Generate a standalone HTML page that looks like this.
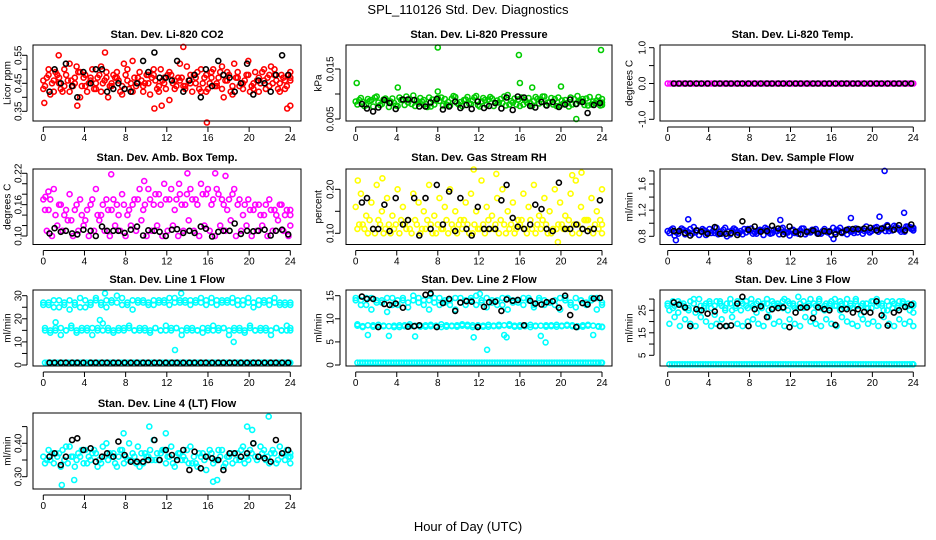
<!DOCTYPE html>
<html><head><meta charset="utf-8"><title>SPL_110126 Std. Dev. Diagnostics</title>
<style>
html,body{margin:0;padding:0;background:#fff;}
svg{display:block;font-family:"Liberation Sans",Arial,sans-serif;}
</style></head>
<body>
<svg id="chart" width="936" height="540" viewBox="0 0 936 540" xmlns="http://www.w3.org/2000/svg">
<rect x="0" y="0" width="936" height="540" fill="#fff"/>
<text x="468" y="14" font-size="13" text-anchor="middle">SPL_110126  Std. Dev. Diagnostics</text>
<text x="468" y="531" font-size="13" text-anchor="middle">Hour of Day (UTC)</text>
</svg>
<script>
// ---- shared data ----
const blackHours = [0.6,1.1,1.7,2.2,2.8,3.3,3.9,4.6,5.1,5.7,6.2,6.8,7.3,7.9,8.5,9.1,9.7,10.2,10.8,11.3,11.9,12.5,13.0,13.6,14.2,14.7,15.3,15.8,16.4,17.0,17.5,18.1,18.6,19.2,19.8,20.4,20.9,21.5,22.1,22.6,23.2,23.8];
const xTicks = [0,4,8,12,16,20,24];

// CO2
const co2A = [0.46,0.50,0.42,0.47,0.44,0.52,0.45,0.40,0.48,0.46,0.43,0.51,0.47,0.44,0.49,0.41,0.46,0.53,0.45,0.42,0.48,0.50,0.44,0.47,0.39,0.46,0.52,0.43,0.48,0.45,0.50,0.42,0.47,0.44,0.51,0.46,0.41,0.49,0.45,0.53,0.43,0.47,0.50,0.44,0.48,0.42,0.46,0.49];
const co2B = [0.44,0.41,0.49,0.43,0.48,0.46,0.51,0.44,0.42,0.50,0.47,0.45,0.40,0.48,0.46,0.52,0.43,0.47,0.49,0.45,0.41,0.46,0.50,0.43,0.48,0.44,0.47,0.51,0.42,0.49,0.45,0.43,0.50,0.47,0.40,0.48,0.52,0.44,0.46,0.42,0.49,0.45,0.43,0.51,0.46,0.48,0.44,0.37];
const co2C = [0.47,0.45,0.48,0.42,0.46,0.44,0.49,0.47,0.45,0.43,0.48,0.46,0.44,0.47,0.42,0.48,0.45,0.44,0.46,0.48,0.47,0.43,0.46,0.48,0.45,0.47,0.44,0.46,0.48,0.43,0.47,0.45,0.44,0.49,0.46,0.42,0.47,0.45,0.48,0.44,0.46,0.49,0.47,0.45,0.43,0.47,0.48,0.46];
const co2D = [0.43,0.48,0.46,0.45,0.50,0.42,0.47,0.49,0.44,0.47,0.45,0.42,0.49,0.45,0.47,0.44,0.50,0.42,0.47,0.44,0.45,0.48,0.42,0.45,0.49,0.43,0.46,0.44,0.45,0.47,0.42,0.48,0.49,0.45,0.43,0.49,0.44,0.47,0.43,0.48,0.45,0.42,0.46,0.48,0.50,0.45,0.43,0.47];
const co2OutHours = [0.1,6.0,13.6,15.9,10.8,23.7,3.3,1.5,11.5];
const co2OutVals = [0.38,0.56,0.58,0.31,0.36,0.36,0.37,0.55,0.37];
const co2Black = [0.42,0.50,0.45,0.52,0.44,0.40,0.49,0.45,0.50,0.50,0.42,0.43,0.45,0.43,0.42,0.45,0.53,0.49,0.56,0.47,0.47,0.46,0.53,0.42,0.46,0.48,0.40,0.50,0.44,0.53,0.48,0.47,0.42,0.45,0.52,0.41,0.46,0.45,0.42,0.48,0.55,0.48];

// Pressure
const presA = [0.0085,0.0092,0.0078,0.0088,0.0095,0.0080,0.0087,0.0091,0.0076,0.0089,0.0083,0.0097,0.0081,0.0088,0.0093,0.0079,0.0086,0.0090,0.0077,0.0094,0.0084,0.0089,0.0080,0.0096,0.0085,0.0078,0.0091,0.0087,0.0082,0.0098,0.0083,0.0089,0.0079,0.0092,0.0086,0.0081,0.0095,0.0084,0.0090,0.0077,0.0088,0.0093,0.0080,0.0086,0.0091,0.0079,0.0087,0.0083];
const presB = [0.0079,0.0084,0.0090,0.0075,0.0083,0.0089,0.0074,0.0082,0.0093,0.0078,0.0090,0.0076,0.0092,0.0080,0.0075,0.0087,0.0093,0.0079,0.0091,0.0082,0.0076,0.0094,0.0087,0.0078,0.0092,0.0089,0.0076,0.0083,0.0095,0.0079,0.0091,0.0076,0.0088,0.0081,0.0094,0.0089,0.0078,0.0092,0.0076,0.0087,0.0082,0.0079,0.0096,0.0090,0.0077,0.0085,0.0094,0.0078];
const presC = [0.0088,0.0076,0.0086,0.0093,0.0078,0.0091,0.0085,0.0077,0.0088,0.0095,0.0080,0.0087,0.0085,0.0074,0.0089,0.0092,0.0077,0.0084,0.0096,0.0079,0.0088,0.0081,0.0093,0.0075,0.0088,0.0094,0.0082,0.0090,0.0077,0.0086,0.0079,0.0093,0.0083,0.0076,0.0090,0.0095,0.0083,0.0079,0.0093,0.0081,0.0075,0.0090,0.0085,0.0078,0.0094,0.0082,0.0077,0.0090];
const presOutHours = [0.1,4.1,8.0,15.9,16.0,17.2,20.0,23.9,21.5,8.0];
const presOutVals = [0.0122,0.0113,0.0193,0.0178,0.0122,0.0113,0.0115,0.0188,0.0050,0.0105];
const presBlack = [0.0080,0.0071,0.0065,0.0073,0.0088,0.0082,0.0070,0.0089,0.0089,0.0088,0.0075,0.0075,0.0083,0.0090,0.0069,0.0075,0.0085,0.0072,0.0078,0.0070,0.0085,0.0072,0.0076,0.0082,0.0071,0.0093,0.0068,0.0095,0.0093,0.0076,0.0073,0.0084,0.0077,0.0084,0.0074,0.0079,0.0089,0.0080,0.0084,0.0062,0.0078,0.0082];

// Li-820 Temp
const tempVals = [0,0,0,0,0,0,0,0,0,0,0,0,0,0,0,0,0,0,0,0,0,0,0,0,0,0,0,0,0,0,0,0,0,0,0,0,0,0,0,0,0,0,0,0,0,0,0,0,0,0,0,0,0,0,0,0,0,0,0,0,0,0,0,0,0,0,0,0,0,0,0,0,0,0,0,0,0,0,0,0,0,0,0,0,0,0,0,0,0,0,0,0,0,0,0,0];
const tempBlack = [0,0,0,0,0,0,0,0,0,0,0,0,0,0,0,0,0,0,0,0,0,0,0,0,0,0,0,0,0,0,0,0,0,0,0,0,0,0,0,0,0,0];

// Amb box temp
const ambUpper = [0.17,0.15,0.19,0.16,0.14,0.18,0.15,0.17,0.13,0.16,0.19,0.14,0.17,0.15,0.16,0.18,0.14,0.16,0.17,0.15,0.19,0.16,0.18,0.20,0.17,0.15,0.18,0.16,0.19,0.17,0.20,0.18,0.16,0.19,0.17,0.15,0.18,0.16,0.14,0.17,0.15,0.16,0.14,0.17,0.15,0.16,0.14,0.15];
const ambMid = [0.15,0.17,0.14,0.16,0.15,0.13,0.16,0.14,0.15,0.17,0.14,0.16,0.15,0.17,0.14,0.16,0.15,0.17,0.19,0.16,0.17,0.18,0.16,0.17,0.19,0.17,0.16,0.18,0.17,0.16,0.18,0.19,0.17,0.18,0.16,0.17,0.19,0.17,0.16,0.15,0.16,0.14,0.16,0.15,0.14,0.16,0.15,0.14];
const ambLower = [0.11,0.10,0.12,0.11,0.13,0.10,0.11,0.12,0.10,0.11,0.13,0.11,0.10,0.12,0.11,0.10,0.12,0.11,0.13,0.10,0.11,0.12,0.10,0.11,0.12,0.10,0.11,0.13,0.11,0.10,0.12,0.11,0.10,0.12,0.11,0.13,0.10,0.11,0.12,0.10,0.11,0.12,0.10,0.11,0.13,0.11,0.10,0.12];
const ambOutHours = [6.6,14.0,16.7,17.7,0.2,0.5,9.8,13.2];
const ambOutVals = [0.218,0.220,0.220,0.215,0.175,0.185,0.205,0.200];
const ambBlack = [0.105,0.115,0.108,0.110,0.105,0.103,0.112,0.110,0.100,0.118,0.110,0.110,0.110,0.106,0.112,0.118,0.101,0.111,0.110,0.108,0.100,0.112,0.113,0.106,0.110,0.106,0.118,0.114,0.099,0.108,0.110,0.110,0.124,0.104,0.110,0.109,0.110,0.112,0.101,0.110,0.112,0.103];

// Gas stream RH
const rhLower = [0.11,0.12,0.10,0.11,0.13,0.10,0.12,0.11,0.10,0.12,0.11,0.13,0.10,0.11,0.12,0.10,0.11,0.13,0.12,0.10,0.11,0.12,0.10,0.11,0.12,0.13,0.11,0.10,0.12,0.11,0.10,0.12,0.11,0.13,0.10,0.11,0.12,0.10,0.11,0.12,0.11,0.10,0.12,0.11,0.13,0.10,0.11,0.12];
const rhLower2 = [0.12,0.11,0.13,0.10,0.12,0.11,0.10,0.12,0.13,0.11,0.10,0.12,0.11,0.13,0.10,0.12,0.11,0.10,0.11,0.12,0.13,0.10,0.12,0.11,0.10,0.11,0.12,0.13,0.10,0.12,0.11,0.13,0.10,0.11,0.12,0.13,0.10,0.11,0.12,0.11,0.13,0.12,0.10,0.13,0.11,0.12,0.13,0.10];
const rhUpper = [0.16,0.19,0.14,0.17,0.21,0.15,0.18,0.14,0.20,0.16,0.13,0.19,0.17,0.15,0.21,0.14,0.18,0.16,0.20,0.15,0.13,0.17,0.19,0.15,0.22,0.16,0.14,0.18,0.20,0.15,0.17,0.13,0.19,0.16,0.21,0.14,0.18,0.15,0.20,0.17,0.14,0.19,0.22,0.16,0.13,0.18,0.15,0.20];
const rhOutHours = [11.5,13.7,21.1,22.0,0.2,2.6,19.7];
const rhOutVals = [0.245,0.235,0.232,0.238,0.220,0.225,0.080];
const rhBlack = [0.17,0.18,0.11,0.11,0.165,0.105,0.18,0.12,0.13,0.18,0.095,0.18,0.11,0.21,0.12,0.195,0.105,0.18,0.11,0.095,0.16,0.11,0.11,0.11,0.175,0.21,0.135,0.115,0.11,0.12,0.165,0.155,0.11,0.105,0.215,0.11,0.11,0.12,0.11,0.105,0.11,0.175];

// Sample flow
const flowA = [0.88,0.92,0.84,0.90,0.86,0.94,0.82,0.89,0.91,0.85,0.87,0.93,0.83,0.90,0.88,0.86,0.92,0.84,0.89,0.91,0.85,0.88,0.93,0.86,0.90,0.84,0.92,0.87,0.89,0.85,0.91,0.88,0.86,0.93,0.89,0.87,0.92,0.90,0.95,0.88,0.94,0.91,0.97,0.89,0.93,0.90,0.95,0.92];
const flowB = [0.85,0.81,0.89,0.83,0.91,0.86,0.88,0.82,0.85,0.93,0.84,0.80,0.89,0.86,0.83,0.91,0.84,0.88,0.82,0.86,0.90,0.83,0.87,0.81,0.85,0.89,0.83,0.86,0.91,0.84,0.87,0.82,0.90,0.85,0.83,0.88,0.86,0.84,0.89,0.91,0.87,0.93,0.88,0.96,0.90,0.87,0.94,0.89];
const flowC = [0.90,0.86,0.92,0.88,0.84,0.89,0.91,0.86,0.88,0.83,0.90,0.87,0.92,0.85,0.91,0.88,0.86,0.90,0.93,0.84,0.88,0.91,0.85,0.89,0.87,0.92,0.86,0.90,0.84,0.88,0.86,0.93,0.89,0.87,0.91,0.85,0.90,0.88,0.86,0.93,0.90,0.88,0.92,0.94,0.87,0.95,0.91,0.93];
const flowOutHours = [21.2,23.1,2.0,20.7,0.8,16.2,11.0,17.9];
const flowOutVals = [1.80,1.16,1.06,1.10,0.74,0.76,1.05,1.08];
const flowBlack = [0.88,0.88,0.85,0.81,0.89,0.87,0.84,0.94,0.84,0.84,0.85,0.82,1.03,0.90,0.95,0.87,0.88,0.96,0.92,0.83,0.95,0.87,0.83,0.87,0.89,0.84,0.88,0.87,0.83,0.86,0.90,0.91,0.91,0.92,0.93,0.89,0.92,0.95,0.90,0.97,0.89,0.98];

// Line 1 flow
const l1Upper = [26,27,25,28,26,24,27,25,28,26,29,27,25,28,30,26,27,24,28,27,26,28,27,28,26,29,27,28,26,27,29,28,27,26,28,27,29,28,26,27,25,28,27,26,29,27,26,27];
const l1Upper2 = [27,26,28,25,27,28,26,29,25,27,28,26,28,27,27,29,26,28,27,28,27,26,28,27,29,27,28,27,28,28,27,26,29,28,27,28,27,26,28,29,27,26,28,28,27,26,27,26];
const l1Mid = [15,14,16,13,15,17,14,16,15,13,16,18,15,14,16,15,17,15,16,15,14,16,15,17,15,16,13,15,16,15,14,16,17,15,16,13,15,16,14,17,15,16,15,13,16,15,17,15];
const l1Mid2 = [16,15,15,16,15,16,15,15,16,16,15,15,16,15,15,16,16,15,15,16,15,16,15,15,16,16,15,16,15,15,16,15,15,16,16,15,16,15,15,16,15,15,16,15,16,15,15,16];
const l1Bottom = [1,1,1,1,1,1,1,1,1,1,1,1,1,1,1,1,1,1,1,1,1,1,1,1,1,1,1,1,1,1,1,1,1,1,1,1,1,1,1,1,1,1,1,1,1,1,1,1,1,1,1,1,1,1,1,1,1,1,1,1,1,1,1,1,1,1,1,1,1,1,1,1,1,1,1,1,1,1,1,1,1,1,1,1,1,1,1,1,1,1,1,1,1,1,1,1];
const l1OutHours = [12.8,18.5,6.0,13.4,5.5,1.2];
const l1OutVals = [6.5,10,31,31,19.5,18.5];
const l1Black = [1,1,1,1,1,1,1,1,1,1,1,1,1,1,1,1,1,1,1,1,1,1,1,1,1,1,1,1,1,1,1,1,1,1,1,1,1,1,1,1,1,1];

// Line 2 flow
const l2Upper = [14,13,14.5,12,13.5,14,11.5,14.5,13,14,12.5,15,13.5,14,12,14.5,13,13.5,14,12,14.5,13,14,15,13.5,12.5,14,13,14.5,12,13.5,14,13,14.5,12.5,14,13,13.5,14,12,14.5,13.5,12.5,14,13,14.5,12,13.5];
const l2Upper2 = [14.5,14,13,14.5,14,13.5,14.5,13,14,14.5,13.5,14,14.5,13,14,13.5,14.5,14,13,14.5,13.5,14,14.5,13,14,14.5,13.5,14,13,14.5,14,13.5,14.5,14,13,14.5,14,13.5,13,14.5,14,13,14.5,14,13.5,14,14.5,13];
const l2Mid = [8.5,8.2,6.5,8.6,8.3,8.4,6.3,8.5,8.2,8.6,8.4,6.2,8.5,8.3,8.7,8.4,8.2,8.6,8.5,8.3,8.8,8.4,8.2,8.6,8.5,8.3,8.4,8.7,6.5,8.5,8.3,8.6,8.4,8.2,8.5,6.3,8.6,8.4,8.3,8.5,8.7,8.4,8.2,8.6,8.5,6.5,8.3,8.2];
const l2Mid2 = [8.8,8.4,8.6,8.3,8.7,8.5,8.4,8.2,8.6,8.4,8.8,8.5,8.3,8.6,8.4,8.5,8.8,8.3,8.4,8.6,8.5,8.7,8.6,8.4,8.3,8.7,8.5,8.4,8.6,8.8,8.5,8.3,8.6,8.7,8.4,8.5,8.3,8.6,8.7,8.4,8.5,8.6,8.4,8.3,8.7,8.5,8.4,8.3];
const l2Bottom = [0.5,0.5,0.5,0.5,0.5,0.5,0.5,0.5,0.5,0.5,0.5,0.5,0.5,0.5,0.5,0.5,0.5,0.5,0.5,0.5,0.5,0.5,0.5,0.5,0.5,0.5,0.5,0.5,0.5,0.5,0.5,0.5,0.5,0.5,0.5,0.5,0.5,0.5,0.5,0.5,0.5,0.5,0.5,0.5,0.5,0.5,0.5,0.5,0.5,0.5,0.5,0.5,0.5,0.5,0.5,0.5,0.5,0.5,0.5,0.5,0.5,0.5,0.5,0.5,0.5,0.5,0.5,0.5,0.5,0.5,0.5,0.5,0.5,0.5,0.5,0.5,0.5,0.5,0.5,0.5,0.5,0.5,0.5,0.5,0.5,0.5,0.5,0.5,0.5,0.5,0.5,0.5,0.5,0.5,0.5,0.5];
const l2OutHours = [12.8,18.5,11.5,14.7,7.3,12.1];
const l2OutVals = [3.3,4.9,6.0,6.0,15.3,15.4];
const l2Black = [14.8,14.3,14.3,8.2,13.2,13,13.3,12.4,8.3,8.4,8.6,15.2,15.5,8.2,13.4,14.3,11.7,13.5,13.8,13.7,8.2,12.6,13.6,13.7,11.7,14.2,13.9,14.1,8.6,13.9,13.3,13.1,13.6,13.8,12.4,15,10.8,8.2,13.4,13.1,14.4,14.5];

// Line 3 flow
const l3Upper = [27,29,24,28,26,30,25,27,29,23,28,26,30,27,25,29,28,24,27,30,26,28,29,25,27,31,26,28,24,29,27,26,30,25,28,27,29,23,28,26,30,27,25,29,26,28,27,24];
const l3Upper2 = [28,26,29,27,25,28,30,26,28,27,29,25,28,26,29,27,30,28,26,28,29,27,26,29,28,26,29,27,28,30,25,28,27,29,26,28,30,27,26,29,27,28,29,26,27,29,28,27];
const l3Upper3 = [25,27,28,26,29,24,27,28,26,29,27,28,25,29,28,26,27,29,28,25,28,27,30,28,26,28,27,30,27,26,28,29,27,28,30,26,27,28,26,29,28,25,27,28,29,27,25,28];
const l3Low = [19,22,18,21,19,18,22,20,18,19,21,18,22,19,18,20,21,19,18,22,19,20,18,21,19,18,22,20,19,18,21,19,18,22,20,19,18,21,19,20,18,22,19,18,21,19,20,18];
const l3Bottom = [1,1,1,1,1,1,1,1,1,1,1,1,1,1,1,1,1,1,1,1,1,1,1,1,1,1,1,1,1,1,1,1,1,1,1,1,1,1,1,1,1,1,1,1,1,1,1,1,1,1,1,1,1,1,1,1,1,1,1,1,1,1,1,1,1,1,1,1,1,1,1,1,1,1,1,1,1,1,1,1,1,1,1,1,1,1,1,1,1,1,1,1,1,1,1,1];
const l3Black = [28.5,27.5,26.3,18,25.5,25,23.5,24.5,18,18,18.3,28,31,18,25.5,26.8,22,25.5,26,26.3,17.5,24,26.2,26.3,21.5,26.3,25.5,25,18.5,25.5,25.5,24,25.5,24.3,24,29,22.8,18.2,24,25,26.5,27.5];

// Line 4 (LT) flow
const l4A = [0.36,0.38,0.34,0.37,0.35,0.39,0.33,0.36,0.38,0.35,0.37,0.34,0.40,0.36,0.33,0.38,0.35,0.37,0.39,0.34,0.36,0.41,0.35,0.38,0.36,0.33,0.37,0.35,0.39,0.34,0.36,0.32,0.37,0.35,0.38,0.36,0.34,0.37,0.39,0.35,0.40,0.36,0.38,0.34,0.37,0.39,0.35,0.36];
const l4B = [0.34,0.35,0.37,0.33,0.39,0.36,0.35,0.38,0.34,0.37,0.33,0.39,0.35,0.37,0.36,0.34,0.40,0.36,0.33,0.37,0.38,0.35,0.37,0.34,0.39,0.36,0.35,0.38,0.34,0.33,0.37,0.36,0.34,0.38,0.33,0.36,0.37,0.35,0.34,0.38,0.36,0.39,0.35,0.37,0.34,0.36,0.38,0.37];
const l4C = [0.35,0.37,0.36,0.38,0.34,0.36,0.37,0.34,0.36,0.38,0.35,0.36,0.37,0.34,0.38,0.36,0.35,0.34,0.37,0.36,0.35,0.37,0.38,0.36,0.34,0.37,0.36,0.34,0.36,0.37,0.35,0.38,0.35,0.36,0.34,0.37,0.35,0.38,0.36,0.37,0.35,0.37,0.36,0.38,0.35,0.37,0.36,0.34];
const l4OutHours = [1.8,10.3,11.9,21.9,19.8,7.8,3.0,16.5,20.3,16.9];
const l4OutVals = [0.275,0.450,0.430,0.480,0.450,0.430,0.290,0.285,0.440,0.290];
const l4Black = [0.36,0.37,0.335,0.36,0.41,0.415,0.38,0.385,0.345,0.36,0.37,0.36,0.405,0.365,0.345,0.345,0.345,0.35,0.41,0.35,0.38,0.365,0.35,0.38,0.32,0.375,0.325,0.36,0.355,0.35,0.32,0.37,0.37,0.36,0.37,0.40,0.36,0.355,0.345,0.41,0.37,0.38];

// ---- rendering ----
const NS = 'http://www.w3.org/2000/svg';
const svg = document.getElementById('chart');
function mk(tag, attrs, parent) {
  const e = document.createElementNS(NS, tag);
  for (const k in attrs) e.setAttribute(k, attrs[k]);
  (parent || svg).appendChild(e);
  return e;
}
const cols = [
  {left:33, right:301, x0:43.3, x24:290.3, tickLab:19, yTitle:8},
  {left:346, right:612, x0:355.7, x24:602, tickLab:331, yTitle:319},
  {left:660, right:925, x0:667.7, x24:913.3, tickLab:643, yTitle:630}
];
const rows = [
  {top:45, bottom:121, title:38},
  {top:169, bottom:244.5, title:161},
  {top:290, bottom:366, title:283},
  {top:413, bottom:489, title:407}
];
// spread a series evenly over the 0-24 hour domain, offset by series index so bands interleave
function hoursFor(n, k){ const h=[]; const off = (k%3)*0.33*24/(n-1); for(let i=0;i<n;i++) h.push(Math.min(24, i*24/(n-1) + off)); return h; }

const panels = [
  {name:'co2', title:'Stan. Dev. Li-820 CO2', ylab:'Licor ppm', c:0, r:0, v0:0.35, p0:111.3, v1:0.55, p1:55.3,
   ticks:[0.35,0.40,0.45,0.50,0.55], labels:['0.35','','0.45','','0.55'], color:'#ff0000',
   series:[co2A,co2B,co2C,co2D], outH:co2OutHours, outV:co2OutVals, black:co2Black},
  {name:'pressure', title:'Stan. Dev. Li-820 Pressure', ylab:'kPa', c:1, r:0, v0:0.005, p0:119, v1:0.015, p1:69,
   ticks:[0.005,0.010,0.015], labels:['0.005','','0.015'], color:'#00cc00',
   series:[presA,presB,presC], outH:presOutHours, outV:presOutVals, black:presBlack},
  {name:'li820-temp', title:'Stan. Dev. Li-820 Temp.', ylab:'degrees C', c:2, r:0, v0:-1, p0:119.3, v1:1, p1:47.7,
   ticks:[-1,-0.5,0,0.5,1], labels:['-1.0','','0.0','','1.0'], color:'#ff00ff',
   series:[tempVals], outH:[], outV:[], black:tempBlack},
  {name:'amb-box-temp', title:'Stan. Dev. Amb. Box Temp.', ylab:'degrees C', c:0, r:1, v0:0.10, p0:236, v1:0.22, p1:173.3,
   ticks:[0.10,0.12,0.14,0.16,0.18,0.20,0.22], labels:['0.10','','','0.16','','','0.22'], color:'#ff00ff',
   series:[ambUpper,ambMid,ambLower], outH:ambOutHours, outV:ambOutVals, black:ambBlack},
  {name:'gas-stream-rh', title:'Stan. Dev. Gas Stream RH', ylab:'percent', c:1, r:1, v0:0.10, p0:233.3, v1:0.20, p1:189.3,
   ticks:[0.10,0.15,0.20], labels:['0.10','','0.20'], color:'#ffff00',
   series:[rhUpper,rhLower,rhLower2], outH:rhOutHours, outV:rhOutVals, black:rhBlack},
  {name:'sample-flow', title:'Stan. Dev. Sample Flow', ylab:'ml/min', c:2, r:1, v0:0.8, p0:236.3, v1:1.6, p1:184,
   ticks:[0.8,1.0,1.2,1.4,1.6,1.8], labels:['0.8','','1.2','','1.6',''], color:'#0000ff',
   series:[flowA,flowB,flowC], outH:flowOutHours, outV:flowOutVals, black:flowBlack},
  {name:'line1-flow', title:'Stan. Dev. Line 1 Flow', ylab:'ml/min', c:0, r:2, v0:0, p0:365, v1:30, p1:295.7,
   ticks:[0,5,10,15,20,25,30], labels:['0','','10','','20','','30'], color:'#00ffff',
   series:[l1Upper,l1Mid,l1Bottom,l1Upper2,l1Mid2], outH:l1OutHours, outV:l1OutVals, black:l1Black},
  {name:'line2-flow', title:'Stan. Dev. Line 2 Flow', ylab:'ml/min', c:1, r:2, v0:0, p0:365, v1:15, p1:295.7,
   ticks:[0,5,10,15], labels:['0','5','10','15'], color:'#00ffff',
   series:[l2Upper,l2Mid,l2Bottom,l2Upper2,l2Mid2], outH:l2OutHours, outV:l2OutVals, black:l2Black},
  {name:'line3-flow', title:'Stan. Dev. Line 3 Flow', ylab:'ml/min', c:2, r:2, v0:5, p0:355.3, v1:25, p1:310.3,
   ticks:[5,10,15,20,25,30], labels:['5','','15','','25',''], color:'#00ffff',
   series:[l3Upper,l3Low,l3Bottom,l3Upper2,l3Upper3], outH:[], outV:[], black:l3Black},
  {name:'line4-flow', title:'Stan. Dev. Line 4 (LT) Flow', ylab:'ml/min', c:0, r:3, v0:0.30, p0:476.7, v1:0.40, p1:443.3,
   ticks:[0.30,0.35,0.40,0.45], labels:['0.30','','0.40',''], color:'#00ffff',
   series:[l4A,l4B,l4C], outH:l4OutHours, outV:l4OutVals, black:l4Black}
];

panels.forEach(p => {
  const col = cols[p.c], row = rows[p.r];
  const xs = h => col.x0 + (h/24)*(col.x24-col.x0);
  const ys = v => p.p0 + (v - p.v0)*(p.p1-p.p0)/(p.v1-p.v0);
  const g = mk('g', {});
  
  

  const t = mk('text', {x:(col.left+col.right)/2, y:row.title, 'font-size':11, 'font-weight':'bold', 'text-anchor':'middle'}, g);
  
  
  t.textContent = p.title;

  const cy = (row.top+row.bottom)/2;
  const yl = mk('text', {x:col.yTitle, y:cy, 'font-size':10, 'text-anchor':'middle', 'dominant-baseline':'middle', transform:`rotate(-90 ${col.yTitle} ${cy})`}, g);
  
  
  yl.textContent = p.ylab;

  const pts = mk('g', {fill:'none', 'stroke-width':1.6}, g);
  
  
  p.series.forEach((s, k) => {
    const hs = hoursFor(s.length, k);
    s.forEach((v,i) => {
      const c = mk('circle', {cx:xs(hs[i]).toFixed(1), cy:ys(v).toFixed(1), r:2.5, stroke:p.color}, pts);
      
      
    });
  });
  p.outV.forEach((v,i) => {
    const c = mk('circle', {cx:xs(p.outH[i]).toFixed(1), cy:ys(v).toFixed(1), r:2.5, stroke:p.color}, pts);
    
    
  });
  p.black.forEach((v,i) => {
    const c = mk('circle', {cx:xs(blackHours[i]).toFixed(1), cy:ys(v).toFixed(1), r:2.5, stroke:'#000'}, pts);
    
    
  });

  const fr = mk('rect', {x:col.left, y:row.top, width:col.right-col.left, height:row.bottom-row.top, fill:'none', stroke:'#000', 'stroke-width':1}, g);
  
  

  const xa = mk('g', {}, g);
  
  
  mk('line', {x1:xs(0), x2:xs(24), y1:row.bottom+6, y2:row.bottom+6, stroke:'#000'}, xa);
  xTicks.forEach(h => {
    mk('line', {x1:xs(h), x2:xs(h), y1:row.bottom+6, y2:row.bottom+11, stroke:'#000'}, xa);
    const tl = mk('text', {x:xs(h), y:row.bottom+20, 'font-size':10, 'text-anchor':'middle'}, xa);
    
    
    tl.textContent = String(h);
  });

  const ya = mk('g', {}, g);
  
  
  const ax = col.left - 6;
  mk('line', {x1:ax, x2:ax, y1:ys(p.ticks[0]), y2:ys(p.ticks[p.ticks.length-1]), stroke:'#000'}, ya);
  p.ticks.forEach((v,i) => {
    const y = ys(v);
    mk('line', {x1:ax-5, x2:ax, y1:y, y2:y, stroke:'#000'}, ya);
    if (p.labels[i]) {
      const tl = mk('text', {x:col.tickLab, y:y, 'font-size':10, 'text-anchor':'middle', 'dominant-baseline':'middle', transform:`rotate(-90 ${col.tickLab} ${y})`}, ya);
      
      
      tl.textContent = p.labels[i];
    }
  });
});
</script>
</body></html>
